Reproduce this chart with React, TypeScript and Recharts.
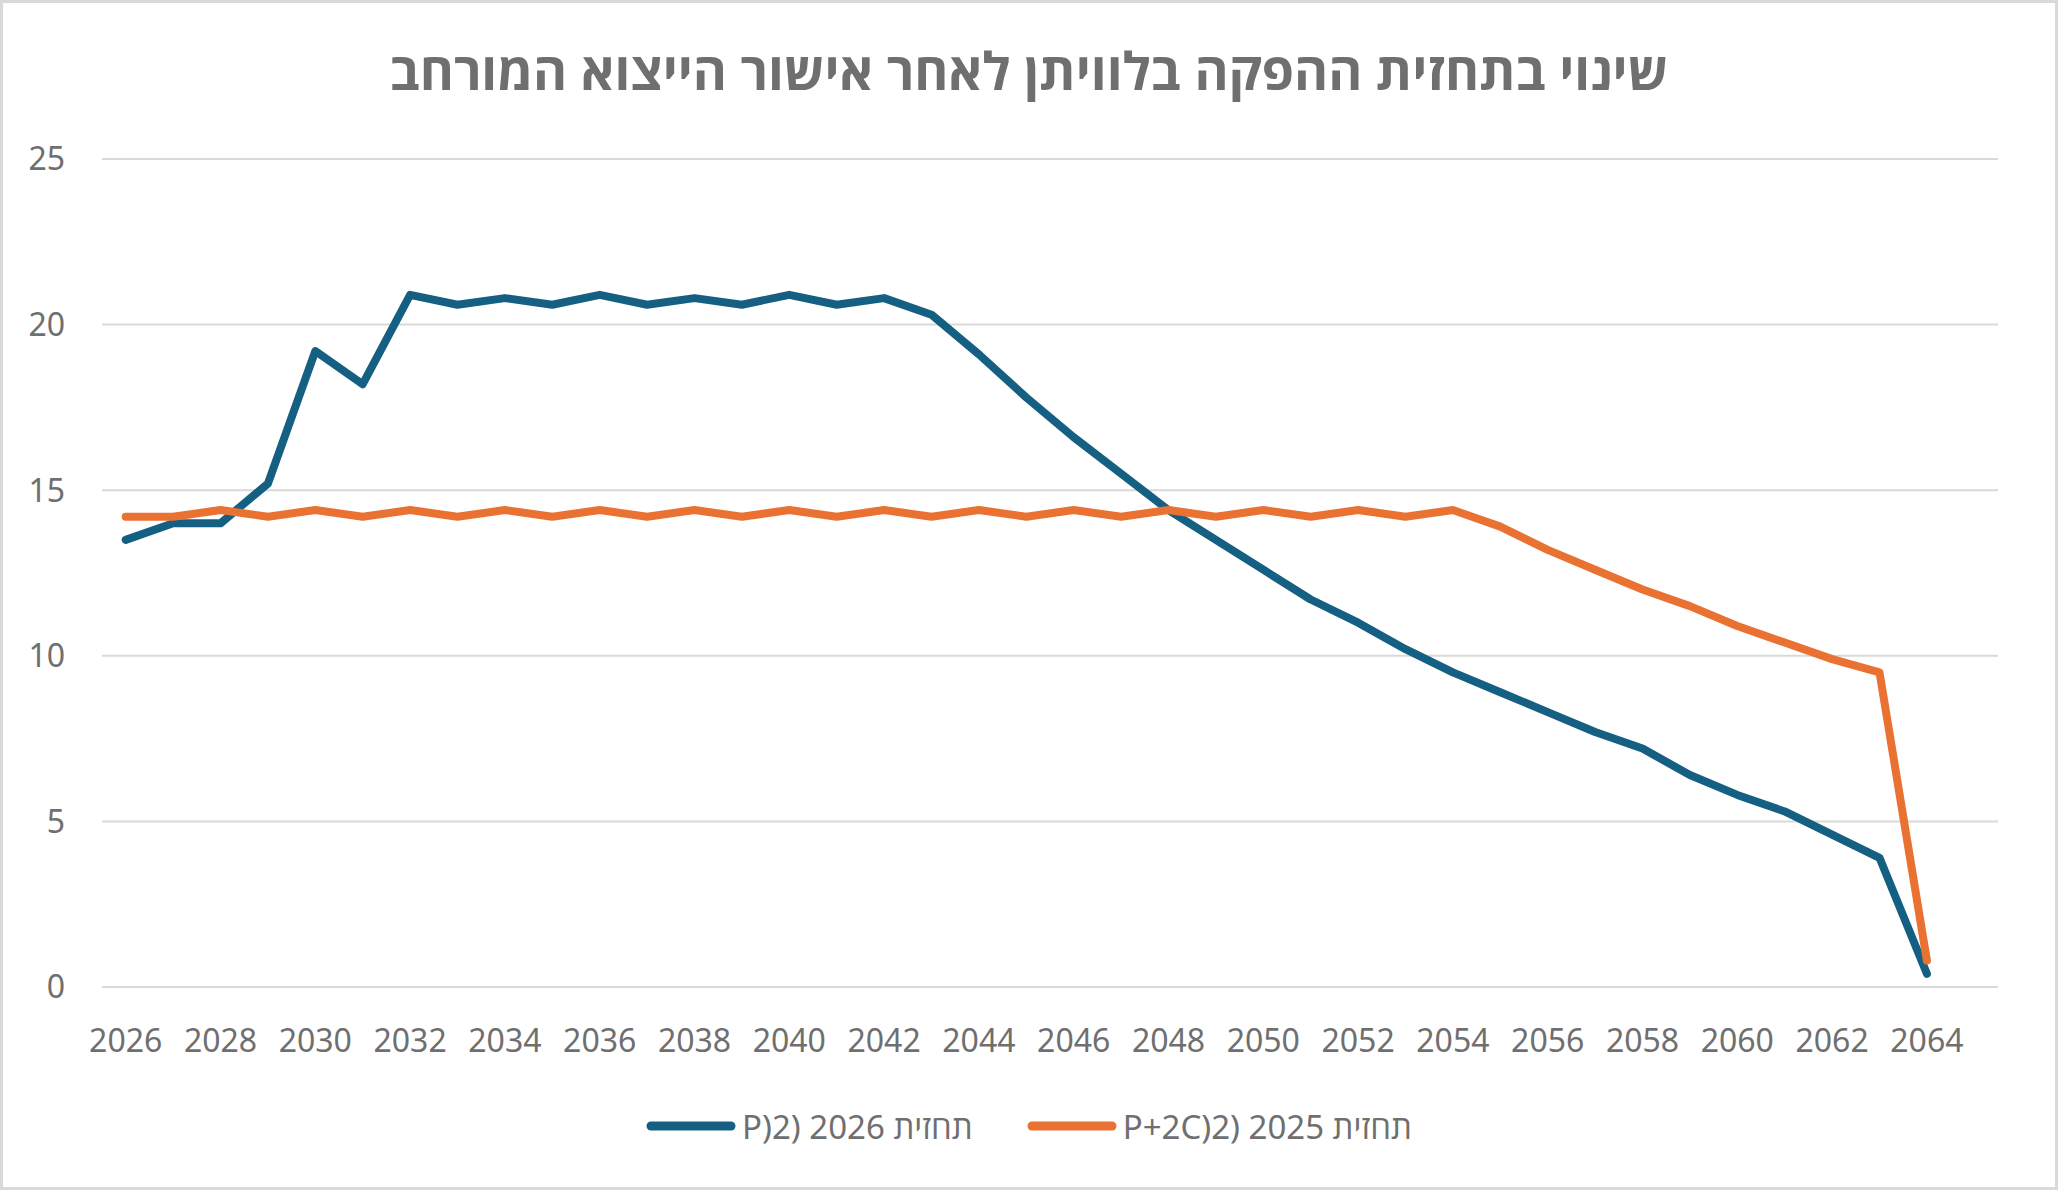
import React from 'react';
import { LineChart, Line, XAxis, YAxis, CartesianGrid, Legend } from 'recharts';

const years = [
  2026, 2027, 2028, 2029, 2030, 2031, 2032, 2033, 2034, 2035,
  2036, 2037, 2038, 2039, 2040, 2041, 2042, 2043, 2044, 2045,
  2046, 2047, 2048, 2049, 2050, 2051, 2052, 2053, 2054, 2055,
  2056, 2057, 2058, 2059, 2060, 2061, 2062, 2063, 2064,
];

// תחזית 2026 (2P)
const forecast2026 = [
  13.5, 14.0, 14.0, 15.2, 19.2, 18.2, 20.9, 20.6, 20.8, 20.6,
  20.9, 20.6, 20.8, 20.6, 20.9, 20.6, 20.8, 20.3, 19.1, 17.8,
  16.6, 15.5, 14.4, 13.5, 12.6, 11.7, 11.0, 10.2, 9.5, 8.9,
  8.3, 7.7, 7.2, 6.4, 5.8, 5.3, 4.6, 3.9, 0.4,
];

// תחזית 2025 (2P+2C)
const forecast2025 = [
  14.2, 14.2, 14.4, 14.2, 14.4, 14.2, 14.4, 14.2, 14.4, 14.2,
  14.4, 14.2, 14.4, 14.2, 14.4, 14.2, 14.4, 14.2, 14.4, 14.2,
  14.4, 14.2, 14.4, 14.2, 14.4, 14.2, 14.4, 14.2, 14.4, 13.9,
  13.2, 12.6, 12.0, 11.5, 10.9, 10.4, 9.9, 9.5, 0.8,
];

const xTicks = [
  2026, 2028, 2030, 2032, 2034, 2036, 2038, 2040, 2042, 2044,
  2046, 2048, 2050, 2052, 2054, 2056, 2058, 2060, 2062, 2064,
];
const yTicks = [0, 5, 10, 15, 20, 25];

const title = 'שינוי בתחזית ההפקה בלוויתן לאחר אישור הייצוא המורחב';
const seriesNames = ['P)2) 2026 תחזית', 'P+2C)2) 2025 תחזית'];

const BLUE = '#156082';
const ORANGE = '#E97132';
const TEXT = '#6f6f6f';
const FONT = "'Noto Sans', 'Open Sans', 'Liberation Sans', sans-serif";

const data = years.map((year, i) => ({
  year,
  f2026: forecast2026[i],
  f2025: forecast2025[i],
}));

const legendItems = [
  { name: seriesNames[0], color: BLUE },
  { name: seriesNames[1], color: ORANGE },
];

const renderLegend = () => (
  <div
    style={{
      display: 'flex',
      justifyContent: 'center',
      alignItems: 'center',
      height: 80,
      gap: 54,
      fontFamily: FONT,
      fontSize: 33,
      color: TEXT,
    }}
  >
    {legendItems.map((item) => (
      <div key={item.name} style={{ display: 'flex', alignItems: 'center', gap: 6 }}>
        <svg width={90} height={12}>
          <line x1={5} y1={6} x2={85} y2={6} stroke={item.color} strokeWidth={9} strokeLinecap="round" />
        </svg>
        <span style={{ whiteSpace: 'pre' }}>{item.name}</span>
      </div>
    ))}
  </div>
);

const tickStyle = { fill: TEXT, fontSize: 32, fontFamily: FONT };

const App: React.FC = () => (
  <div style={{ position: 'absolute', left: 0, top: 0, width: 2058, height: 1190, background: '#fff' }}>
    <LineChart
      width={2058}
      height={1190}
      data={data}
      margin={{ top: 159, right: 60, left: 0, bottom: 143 }}
    >
      <CartesianGrid vertical={false} stroke="#D9D9D9" strokeWidth={2} />
      <XAxis
        dataKey="year"
        type="number"
        domain={[2025.5, 2065.5]}
        ticks={xTicks}
        interval={0}
        tickLine={false}
        axisLine={false}
        tickSize={0}
        tickMargin={42}
        height={60}
        tick={tickStyle}
      />
      <YAxis
        type="number"
        domain={[0, 25]}
        ticks={yTicks}
        interval={0}
        tickLine={false}
        axisLine={false}
        tickSize={0}
        tickMargin={37}
        width={102}
        tick={tickStyle}
      />
      <Legend
        layout="horizontal"
        verticalAlign="middle"
        align="center"
        wrapperStyle={{ top: 1086, left: 0, width: 2058 }}
        content={renderLegend}
      />
      <Line
        dataKey="f2026"
        name={seriesNames[0]}
        stroke={BLUE}
        strokeWidth={8}
        strokeLinejoin="round"
        strokeLinecap="round"
        dot={false}
        activeDot={false}
        isAnimationActive={false}
      />
      <Line
        dataKey="f2025"
        name={seriesNames[1]}
        stroke={ORANGE}
        strokeWidth={8}
        strokeLinejoin="round"
        strokeLinecap="round"
        dot={false}
        activeDot={false}
        isAnimationActive={false}
      />
    </LineChart>
    <div
      style={{
        position: 'absolute',
        left: 0,
        top: 40,
        width: 2058,
        textAlign: 'center',
        fontFamily: FONT,
        fontWeight: 700,
        fontSize: 52,
        lineHeight: '60px',
        color: TEXT,
        pointerEvents: 'none',
      }}
    >
      {title}
    </div>
    <div
      style={{
        position: 'absolute',
        left: 0,
        top: 0,
        width: 2058,
        height: 1190,
        boxSizing: 'border-box',
        border: '3px solid #D9D9D9',
        pointerEvents: 'none',
      }}
    />
  </div>
);

export default App;
